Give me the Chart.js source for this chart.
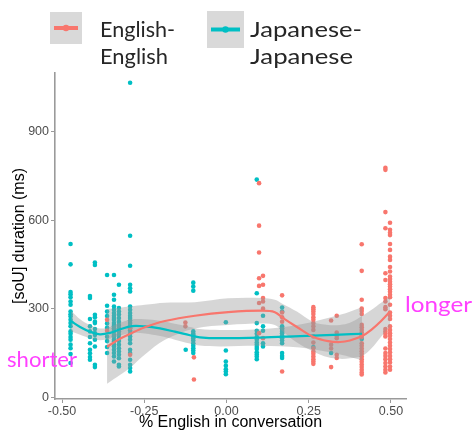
<!DOCTYPE html>
<html>
<head>
<meta charset="utf-8">
<script src="https://cdn.jsdelivr.net/npm/chart.js@4.4.1/dist/chart.umd.min.js"></script>
<style>
  html, body { margin: 0; padding: 0; background: #ffffff; }
  #wrap { width: 475px; height: 432px; }
</style>
</head>
<body>
<div id="wrap"><canvas id="c" width="475" height="432"></canvas></div>
<script>
// ---- tick labels ----
const xTicks = [-0.5, -0.25, 0, 0.25, 0.5];
const yTicks = [0, 300, 600, 900];

// ---- groups ----
const groupNames = [["English-", "English"], ["Japanese-", "Japanese"]];
const enColor = "#F8766D";
const jpColor = "#00BFC4";

// ---- English-English tokens: x position of each speaker column, durations (ms) ----
const enPositions = [-0.363, -0.293, -0.125, -0.099, 0.099, 0.111, 0.169, 0.264, 0.318, 0.335, 0.411, 0.483, 0.497];
const enDurations = [
  [262, 225],
  [235, 144],
  [253, 240],
  [135, 60],
  [725, 581, 490, 403, 377, 319, 217],
  [411, 381, 336, 324, 300, 200],
  [345, 287, 271, 256, 87],
  [305, 298, 290, 282, 271, 262, 251, 240, 228, 206, 185, 166, 155, 147, 138, 129, 121, 113],
  [260, 178, 165, 102],
  [276, 219, 208, 200, 144, 133],
  [518, 428, 330, 300, 292, 282, 245, 237, 228, 219, 210, 204, 183, 174, 165, 156, 147, 138, 129, 120, 111, 102, 93, 84, 77],
  [777, 770, 627, 572, 420, 397, 336, 324, 305, 298, 231, 223, 215, 206, 165, 150, 140, 129, 116, 104, 93, 84],
  [591, 567, 557, 549, 519, 499, 476, 465, 441, 426, 409, 400, 391, 383, 375, 366, 357, 347, 339, 313, 287, 276, 265, 240, 228, 217, 208, 197, 185, 174, 163, 152, 140, 129, 118, 104, 93]
];

// ---- Japanese-Japanese tokens ----
const jpPositions = [-0.474, -0.415, -0.400, -0.363, -0.342, -0.327, -0.293, -0.124, -0.101, -0.002, 0.092, 0.111, 0.169, 0.264, 0.318, 0.411];
const jpDurations = [
  [519, 450, 356, 349, 339, 324, 313, 290, 281, 273, 262, 251, 240, 223, 215, 204, 195, 178, 166, 146, 116],
  [343, 336, 265, 240, 223, 204, 183, 161, 149, 136, 127],
  [456, 448, 279, 271, 256, 251, 231, 217, 211, 195, 172, 110, 102],
  [414, 310, 290, 275, 250, 235, 205, 190, 170, 150],
  [414, 347, 330, 307, 296, 285, 276, 268, 262, 251, 245, 240, 234, 228, 223, 211, 206, 195, 189, 178, 172, 161, 150, 138, 121],
  [381, 302, 290, 280, 268, 256, 245, 234, 223, 212, 200, 190, 178, 166, 155, 144, 132, 110, 104],
  [1065, 547, 445, 381, 369, 358, 307, 296, 285, 276, 268, 260, 251, 242, 234, 226, 215, 206, 195, 183, 161, 150, 127, 110, 99, 87],
  [161],
  [388, 375, 361, 223, 215, 211, 205, 200, 192, 183, 174, 166, 158, 150],
  [254, 158, 121, 107, 95, 87, 78],
  [737, 352, 251, 225, 215, 204, 195, 185, 178, 170, 163, 152, 145, 138, 129],
  [276, 240, 225, 183, 172],
  [304, 290, 240, 234, 228, 222, 217, 208, 200, 192, 183, 150, 140, 133],
  [170],
  [150],
  [197]
];

// ---- smoothed fits with confidence bands ----
const enFitX     = [-0.363, -0.324, -0.293, -0.248, -0.187, -0.096, 0.005, 0.108, 0.147, 0.172, 0.214, 0.263, 0.309, 0.345, 0.375, 0.412, 0.440, 0.470, 0.497];
const enFitY     = [171, 198, 215, 237, 258, 276, 288, 293, 288, 268, 238, 205, 190, 187, 192, 207, 228, 258, 290];
const enFitLower = [46, 75, 100, 145, 195, 233, 245, 250, 245, 222, 185, 155, 135, 130, 132, 140, 165, 205, 240];
const enFitUpper = [299, 303, 307, 313, 320, 322, 335, 336, 330, 315, 290, 255, 245, 245, 252, 275, 295, 320, 340];

const jpFitX     = [-0.473, -0.445, -0.415, -0.385, -0.354, -0.324, -0.287, -0.248, -0.202, -0.157, -0.111, -0.081, -0.020, 0.102, 0.223, 0.345, 0.412];
const jpFitY     = [258, 238, 222, 213, 218, 230, 241, 240, 233, 222, 210, 203, 200, 202, 207, 212, 215];
const jpFitLower = [223, 212, 200, 193, 198, 208, 218, 216, 207, 195, 182, 175, 172, 174, 168, 145, 125];
const jpFitUpper = [293, 264, 244, 233, 238, 252, 264, 264, 259, 249, 238, 231, 228, 230, 246, 279, 305];

// ---- helpers that turn the arrays into {x, y} points ----
function columnPoints(positions, durations) {
  const pts = [];
  positions.forEach((x, i) => durations[i].forEach(v => pts.push({ x: x, y: v })));
  return pts;
}
function curve(xs, ys) {
  return xs.map((x, i) => ({ x: x, y: ys[i] }));
}

const bandFill = "rgba(153,153,153,0.4)";

function fitLine(xs, ys, color) {
  return { data: curve(xs, ys), showLine: true, borderColor: color, borderWidth: 2.2,
           pointRadius: 0, tension: 0.35, fill: false, order: 0 };
}
function bandEdge(xs, ys, fill) {
  return { data: curve(xs, ys), showLine: true, borderWidth: 0, borderColor: "rgba(0,0,0,0)",
           pointRadius: 0, tension: 0.35, fill: fill, backgroundColor: bandFill, order: 1 };
}

const datasets = [
  fitLine(enFitX, enFitY, enColor),                 // 0
  fitLine(jpFitX, jpFitY, jpColor),                 // 1
  bandEdge(enFitX, enFitLower, false),              // 2
  bandEdge(enFitX, enFitUpper, "-1"),               // 3
  bandEdge(jpFitX, jpFitLower, false),              // 4
  bandEdge(jpFitX, jpFitUpper, "-1"),               // 5
  { data: columnPoints(enPositions, enDurations), backgroundColor: enColor, borderWidth: 0,
    pointRadius: 2.3, showLine: false, order: 2 },  // 6
  { data: columnPoints(jpPositions, jpDurations), backgroundColor: jpColor, borderWidth: 0,
    pointRadius: 2.3, showLine: false, order: 2 }   // 7
];

// Draw text squeezed/stretched horizontally to a given width
function fitText(ctx, txt, x, y, w) {
  const m = ctx.measureText(txt).width;
  ctx.save();
  ctx.translate(x, y);
  ctx.scale(w / m, 1);
  ctx.fillText(txt, 0, 0);
  ctx.restore();
}

// Legend keys + side notes
const decorations = {
  id: "decorations",
  afterDraw(chart) {
    const ctx = chart.ctx;
    ctx.save();
    const keys = [
      { x: 50, y: 12, s: 32, color: enColor, text: groupNames[0], tx: 100, w: [75, 68] },
      { x: 207, y: 11, s: 37, color: jpColor, text: groupNames[1], tx: 250, w: [112, 103] }
    ];
    keys.forEach(k => {
      ctx.fillStyle = "#d9d9d9";
      ctx.fillRect(k.x, k.y, k.s, k.s);
      const cy = k.y + k.s / 2;
      ctx.strokeStyle = k.color;
      ctx.lineWidth = 4;
      ctx.beginPath();
      ctx.moveTo(k.x + 4, cy);
      ctx.lineTo(k.x + k.s - 4, cy);
      ctx.stroke();
      ctx.fillStyle = k.color;
      ctx.beginPath();
      ctx.arc(k.x + k.s / 2, cy, 3.2, 0, Math.PI * 2);
      ctx.fill();
      ctx.fillStyle = "#262626";
      ctx.font = "21px Lato";
      ctx.textBaseline = "alphabetic";
      ctx.textAlign = "left";
      fitText(ctx, k.text[0], k.tx, 36.5, k.w[0]);
      fitText(ctx, k.text[1], k.tx, 63.5, k.w[1]);
    });
    ctx.fillStyle = "#FF40FF";
    ctx.font = "21px Lato";
    fitText(ctx, "longer", 405, 312, 67);
    fitText(ctx, "shorter", 7, 367, 70);
    ctx.restore();
  }
};

const tickFont = { family: "Liberation Sans", size: 12.5 };
const titleFont = { family: "Liberation Sans", size: 16 };

new Chart(document.getElementById("c"), {
  type: "scatter",
  data: { datasets: datasets },
  options: {
    responsive: false,
    animation: false,
    devicePixelRatio: 1,
    layout: { padding: { top: 73, right: 69, left: 0, bottom: 0 } },
    plugins: { legend: { display: false }, tooltip: { enabled: false } },
    scales: {
      x: {
        type: "linear",
        min: -0.5213,
        max: 0.5456,
        afterBuildTicks: s => { s.ticks = xTicks.map(v => ({ value: v })); },
        afterFit: s => { s.height = 33; },
        ticks: { font: tickFont, color: "#4d4d4d", padding: 1, maxRotation: 0, autoSkip: false,
                 callback: v => Number(v).toFixed(2) },
        grid: { drawOnChartArea: false, drawTicks: true, tickLength: 4, color: "#9a9a9a", lineWidth: 1 },
        border: { display: true, color: "#9a9a9a", width: 1.6 },
        title: { display: true, text: "% English in conversation", font: titleFont, color: "#000000",
                 padding: { top: 0, bottom: 0 } }
      },
      y: {
        type: "linear",
        min: -6,
        max: 1098,
        afterBuildTicks: s => { s.ticks = yTicks.map(v => ({ value: v })); },
        afterFit: s => { s.width = 55; },
        ticks: { font: tickFont, color: "#4d4d4d", padding: 2, autoSkip: false,
                 callback: v => String(v) },
        grid: { drawOnChartArea: false, drawTicks: true, tickLength: 4, color: "#9a9a9a", lineWidth: 1 },
        border: { display: true, color: "#9a9a9a", width: 1.6 },
        title: { display: true, text: "[soU] duration (ms)", font: titleFont, color: "#000000",
                 padding: { top: 10, bottom: 0 } }
      }
    }
  },
  plugins: [decorations]
});
</script>
</body>
</html>
